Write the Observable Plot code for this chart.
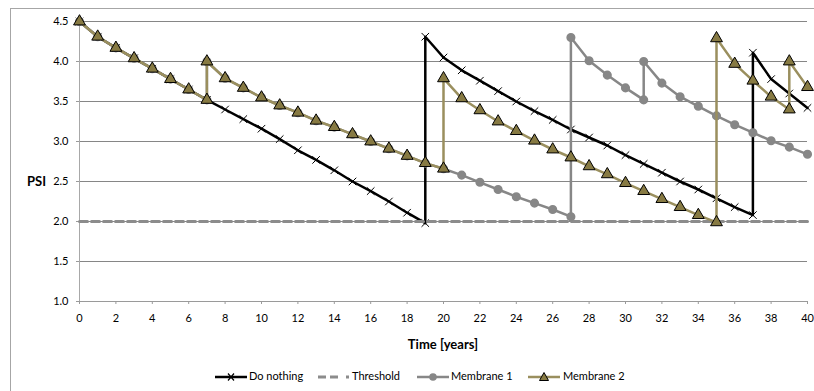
<!DOCTYPE html>
<html><head><meta charset="utf-8">
<script src="https://cdn.jsdelivr.net/npm/d3@7"></script>
<script src="https://cdn.jsdelivr.net/npm/@observablehq/plot@0.6"></script>
<style>
body{margin:0;background:#fff;font-family:Lato,"Liberation Sans",sans-serif;}
#wrap{position:relative;width:814px;height:391px;overflow:hidden;background:#fff;}
#frame{position:absolute;left:10px;top:8px;width:840px;height:420px;border:1px solid #a6a6a6;box-sizing:border-box;}
#chart{position:absolute;left:0;top:0;}
#psi{position:absolute;left:27px;top:173px;font-weight:bold;font-size:13px;color:#000;}
#xlabel{position:absolute;left:0;width:886px;text-align:center;top:336px;font-weight:bold;font-size:13px;color:#000;}
#legend{position:absolute;left:0;top:369px;width:814px;height:16px;font-size:11px;color:#000;white-space:nowrap;}
#legend svg{position:absolute;top:2px;}
#legend span{position:absolute;top:0;}
</style></head><body>
<div id="wrap"><div id="frame"></div><div id="chart"></div><div id="psi">PSI</div><div id="xlabel">Time [years]</div><div id="legend"></div></div>
<script>
// ---- data ----
const yearTicks = [0,2,4,6,8,10,12,14,16,18,20,22,24,26,28,30,32,34,36,38,40];
const psiTicks = [1.0,1.5,2.0,2.5,3.0,3.5,4.0,4.5];
const seriesNames = ["Do nothing","Threshold","Membrane 1","Membrane 2"];

const doNothingYears = [0,1,2,3,4,5,6,7,8,9,10,11,12,13,14,15,16,17,18,19,19,20,21,22,23,24,25,26,27,28,29,30,31,32,33,34,35,36,37,37,38,39,40];
const doNothingPSI   = [4.50,4.31,4.17,4.04,3.91,3.78,3.65,3.52,3.40,3.28,3.16,3.03,2.89,2.77,2.64,2.50,2.38,2.25,2.11,1.98,4.31,4.05,3.89,3.76,3.63,3.50,3.38,3.27,3.15,3.05,2.95,2.83,2.72,2.61,2.50,2.40,2.29,2.18,2.08,4.11,3.78,3.60,3.42];

const thresholdYears = [0,40];
const thresholdPSI   = [2.0,2.0];

const membrane1Years = [0,1,2,3,4,5,6,7,7,8,9,10,11,12,13,14,15,16,17,18,19,20,21,22,23,24,25,26,27,27,28,29,30,31,31,32,33,34,35,36,37,38,39,40];
const membrane1PSI   = [4.50,4.31,4.17,4.04,3.91,3.78,3.65,3.52,4.00,3.79,3.67,3.55,3.45,3.36,3.26,3.18,3.09,3.00,2.91,2.82,2.73,2.66,2.58,2.49,2.40,2.31,2.23,2.15,2.06,4.30,4.01,3.83,3.67,3.52,4.00,3.73,3.56,3.44,3.32,3.21,3.11,3.01,2.93,2.84];

const membrane2Years = [0,1,2,3,4,5,6,7,7,8,9,10,11,12,13,14,15,16,17,18,19,20,20,21,22,23,24,25,26,27,28,29,30,31,32,33,34,35,35,36,37,38,39,39,40];
const membrane2PSI   = [4.50,4.31,4.17,4.04,3.91,3.78,3.65,3.52,4.00,3.79,3.67,3.55,3.45,3.36,3.26,3.18,3.09,3.00,2.91,2.82,2.73,2.66,3.79,3.54,3.39,3.25,3.13,3.01,2.90,2.80,2.69,2.59,2.48,2.38,2.28,2.18,2.08,1.99,4.29,3.97,3.76,3.56,3.40,4.00,3.68];

// ---- build tables ----
const rows = (years, vals) => years.map((t, i) => ({t, v: vals[i]}));
const doNothing = rows(doNothingYears, doNothingPSI);
const threshold = rows(thresholdYears, thresholdPSI);
const membrane1 = rows(membrane1Years, membrane1PSI);
const membrane2 = rows(membrane2Years, membrane2PSI);

const C = {black:"#000000", grid:"#868686", thr:"#8c8c8c", m1:"#878787", m2line:"#9a8f5e", m2fill:"#877a43"};

const chart = Plot.plot({
  width: 814, height: 360,
  marginLeft: 79, marginRight: 7, marginTop: 21, marginBottom: 59,
  style: {fontFamily: "Lato, 'Liberation Sans', sans-serif", fontSize: "11px", color: "#000", background: "transparent", overflow: "visible"},
  x: {domain: [0, 40]},
  y: {domain: [1, 4.5]},
  marks: [
    Plot.gridY(psiTicks.filter(d => d > 1), {stroke: C.grid, strokeOpacity: 1, strokeWidth: 1}),
    Plot.frame({anchor: "left", stroke: "#a8a8a8", strokeWidth: 1}),
    Plot.frame({anchor: "bottom", stroke: "#9a9a9a", strokeWidth: 1}),
    Plot.axisY({ticks: psiTicks, tickFormat: d3.format(".1f"), tickSize: 3, tickPadding: 8, label: null, stroke: "#9a9a9a"}),
    Plot.axisX({ticks: yearTicks, tickFormat: d3.format("d"), tickSize: 3, tickPadding: 10, label: null, stroke: "#9a9a9a"}),
    // Do nothing
    Plot.line(doNothing, {x: "t", y: "v", stroke: C.black, strokeWidth: 2.5}),
    Plot.dot(doNothing, {x: "t", y: "v", symbol: "times", r: 3.5, stroke: C.black, strokeWidth: 1}),
    // Threshold
    Plot.line(threshold, {x: "t", y: "v", stroke: C.thr, strokeWidth: 3, strokeDasharray: "8,4"}),
    // Membrane 1
    Plot.line(membrane1, {x: "t", y: "v", stroke: C.m1, strokeWidth: 2.5}),
    Plot.dot(membrane1, {x: "t", y: "v", r: 3.8, fill: C.m1, stroke: C.m1}),
    // Membrane 2
    Plot.line(membrane2, {x: "t", y: "v", stroke: C.m2line, strokeWidth: 2.5}),
    Plot.dot(membrane2, {x: "t", y: "v", symbol: "triangle", r: 4.4, fill: C.m2fill, stroke: "#000", strokeWidth: 1})
  ]
});
document.getElementById("chart").appendChild(chart);

// ---- legend ----
const legendIconX = [215, 318, 417, 528];
const legendTextX = [249, 352, 451, 563];
const legend = d3.select("#legend");
seriesNames.forEach((name, i) => {
  const s = legend.append("svg").attr("width", 34).attr("height", 12).style("left", legendIconX[i] + "px");
  if (name === "Do nothing") {
    s.append("line").attr("x1", 0).attr("x2", 32).attr("y1", 6).attr("y2", 6).attr("stroke", C.black).attr("stroke-width", 2.5);
    s.append("path").attr("d", "M13,2.5L19,9.5M19,2.5L13,9.5").attr("stroke", C.black).attr("stroke-width", 1.2);
  } else if (name === "Threshold") {
    s.append("line").attr("x1", 0).attr("x2", 24).attr("y1", 6).attr("y2", 6).attr("stroke", C.thr).attr("stroke-width", 3).attr("stroke-dasharray", "8,4");
    s.append("rect").attr("x", 28).attr("y", 4.5).attr("width", 3).attr("height", 3).attr("fill", C.thr);
  } else if (name === "Membrane 1") {
    s.append("line").attr("x1", 0).attr("x2", 32).attr("y1", 6).attr("y2", 6).attr("stroke", C.m1).attr("stroke-width", 2.5);
    s.append("circle").attr("cx", 16).attr("cy", 6).attr("r", 3.8).attr("fill", C.m1);
  } else {
    s.append("line").attr("x1", 0).attr("x2", 32).attr("y1", 6).attr("y2", 6).attr("stroke", C.m2line).attr("stroke-width", 2.5);
    s.append("path").attr("d", "M16,1.5L20.5,9.5L11.5,9.5Z").attr("fill", C.m2fill).attr("stroke", "#000").attr("stroke-width", 1);
  }
  legend.append("span").style("left", legendTextX[i] + "px").text(name);
});
</script>
</body></html>
